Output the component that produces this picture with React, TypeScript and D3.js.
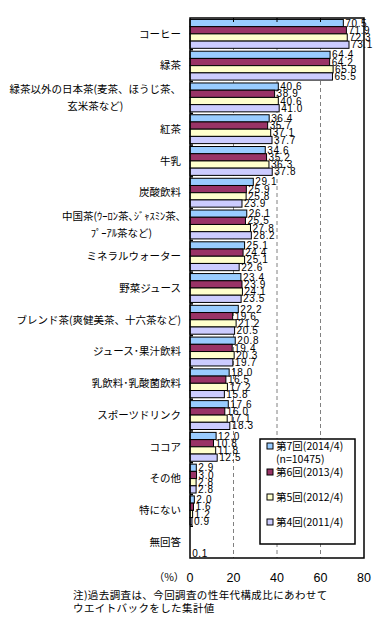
import { useEffect, useRef } from 'react'
import * as d3 from 'd3'

// categories (\n = line break in the axis label)
const categories = [
  'コーヒー',
  '緑茶',
  '緑茶以外の日本茶(麦茶、ほうじ茶、\n玄米茶など)',
  '紅茶',
  '牛乳',
  '炭酸飲料',
  '中国茶(ｳｰﾛﾝ茶､ｼﾞｬｽﾐﾝ茶､\nﾌﾟｰｱﾙ茶など)',
  'ミネラルウォーター',
  '野菜ジュース',
  'ブレンド茶(爽健美茶、十六茶など)',
  'ジュース･果汁飲料',
  '乳飲料･乳酸菌飲料',
  'スポーツドリンク',
  'ココア',
  'その他',
  '特にない',
  '無回答',
]

const seriesNames = ['第7回(2014/4)', '第6回(2013/4)', '第5回(2012/4)', '第4回(2011/4)']
const seriesColors = ['#99ccff', '#993366', '#ffffcc', '#ccccff']

const wave7 = [70.5, 64.4, 40.6, 36.4, 34.6, 29.1, 26.1, 25.1, 23.4, 22.2, 20.8, 18.0, 17.6, 12.0, 2.9, 2.0, null]
const wave6 = [71.9, 64.2, 38.9, 35.7, 35.2, 25.9, 25.5, 24.4, 23.9, 19.6, 19.4, 16.5, 16.0, 10.8, 3.0, 1.6, null]
const wave5 = [72.3, 65.8, 40.6, 37.1, 36.3, 25.8, 27.8, 25.1, 24.1, 21.2, 20.3, 17.2, 17.1, 11.8, 2.8, 1.2, null]
const wave4 = [73.1, 65.5, 41.0, 37.7, 37.8, 23.9, 28.2, 22.6, 23.5, 20.5, 19.7, 15.8, 18.3, 12.5, 2.8, 0.9, 0.1]

const xTicks = [0, 20, 40, 60, 80]
const noteLines = ['注)過去調査は、今回調査の性年代構成比にあわせて', 'ウエイトバックをした集計値']

const JP = '"Noto Sans CJK JP", sans-serif'
const NUM = '"Liberation Sans", Arial, sans-serif'
const NARROW = '"Liberation Sans Narrow", "Arial Narrow", sans-serif'

const App = () => {
  const ref = useRef<SVGSVGElement>(null)

  useEffect(() => {
    const width = 389
    const height = 628
    const plot = { left: 190, right: 364, top: 18, bottom: 558 }

    const svg = d3.select(ref.current)
    svg.selectAll('*').remove()
    svg.attr('width', width).attr('height', height)

    const x = d3.scaleLinear().domain([0, 80]).range([plot.left, plot.right])
    const y = d3.scaleBand<string>().domain(categories).range([plot.top, plot.bottom])
    const inner = d3.scaleBand<number>()
                    .domain(d3.range(seriesNames.length))
                    .range([0, y.bandwidth()])
                    .paddingOuter(0.2)

    const series = [wave7, wave6, wave5, wave4]

    // gridlines
    svg.append('g')
       .selectAll('line')
       .data(xTicks.slice(1, -1))
       .join('line')
       .attr('x1', d => x(d)).attr('x2', d => x(d))
       .attr('y1', plot.top).attr('y2', plot.bottom)
       .attr('stroke', '#808080')
       .attr('stroke-dasharray', '4,3')

    // bars
    series.forEach((vals, si) => {
      const g = svg.append('g')
      categories.forEach((c, ci) => {
        const v = vals[ci]
        if (v == null) return
        const by = (y(c) as number) + (inner(si) as number)
        g.append('rect')
         .attr('x', x(0))
         .attr('y', by)
         .attr('width', Math.max(0, x(v) - x(0)))
         .attr('height', inner.bandwidth())
         .attr('fill', seriesColors[si])
         .attr('stroke', v >= 0.5 ? '#000' : 'none')
         .attr('stroke-width', 1)
      })
    })

    // value labels
    series.forEach((vals, si) => {
      categories.forEach((c, ci) => {
        const v = vals[ci]
        if (v == null) return
        const cy = (y(c) as number) + (inner(si) as number) + inner.bandwidth() / 2
        svg.append('text')
           .attr('x', x(v) + 2)
           .attr('y', cy)
           .attr('dy', '0.36em')
           .attr('font-family', NUM)
           .attr('font-size', 10)
           .attr('letter-spacing', 0.6)
           .text(d3.format('.1f')(v))
      })
    })

    // frame
    svg.append('rect')
       .attr('x', plot.left).attr('y', plot.top)
       .attr('width', plot.right - plot.left).attr('height', plot.bottom - plot.top)
       .attr('fill', 'none').attr('stroke', '#000').attr('stroke-width', 1.5)

    // top ticks
    svg.append('g')
       .selectAll('line')
       .data(xTicks.slice(1, -1))
       .join('line')
       .attr('x1', d => x(d)).attr('x2', d => x(d))
       .attr('y1', plot.top).attr('y2', plot.top + 4)
       .attr('stroke', '#000')

    // category ticks
    svg.append('g')
       .selectAll('line')
       .data(categories.slice(1))
       .join('line')
       .attr('x1', plot.left).attr('x2', plot.left + 3)
       .attr('y1', d => y(d) as number).attr('y2', d => y(d) as number)
       .attr('stroke', '#000')
       .attr('stroke-width', 1.5)

    // category labels
    const catFont = 10.5
    categories.forEach(c => {
      const lines = c.split('\n')
      const cy = (y(c) as number) + y.bandwidth() / 2
      if (lines.length === 1) {
        svg.append('text')
           .attr('x', 181).attr('y', cy).attr('dy', '0.36em')
           .attr('text-anchor', 'end')
           .attr('font-family', JP).attr('font-size', catFont)
           .text(c)
      } else {
        const gap = 17
        const t1 = svg.append('text')
                      .attr('x', 181).attr('y', cy - gap / 2).attr('dy', '0.36em')
                      .attr('text-anchor', 'end')
                      .attr('font-family', JP).attr('font-size', catFont)
                      .text(lines[0])
        const w = (t1.node() as SVGTextElement).getComputedTextLength()
        svg.append('text')
           .attr('x', 181 - w / 2).attr('y', cy + gap / 2).attr('dy', '0.36em')
           .attr('text-anchor', 'middle')
           .attr('font-family', JP).attr('font-size', catFont)
           .text(lines[1])
      }
    })

    // x tick labels
    svg.append('g')
       .selectAll('text')
       .data(xTicks)
       .join('text')
       .attr('x', d => x(d)).attr('y', 577).attr('dy', '0.36em')
       .attr('text-anchor', 'middle')
       .attr('font-family', NARROW).attr('font-size', 12.5)
       .text(d => d)

    svg.append('text')
       .attr('x', 169).attr('y', 577).attr('dy', '0.36em')
       .attr('text-anchor', 'middle')
       .attr('font-family', JP).attr('font-size', 10.5)
       .text('（%）')

    // legend
    const lg = svg.append('g')
    lg.append('rect')
      .attr('x', 260).attr('y', 439).attr('width', 95).attr('height', 105)
      .attr('fill', '#fff').attr('stroke', '#000').attr('stroke-width', 1.5)
    const legendY = [446, 472, 497, 522]
    seriesNames.forEach((name, i) => {
      lg.append('rect')
        .attr('x', 267).attr('y', legendY[i] - 3).attr('width', 6).attr('height', 6)
        .attr('fill', seriesColors[i]).attr('stroke', '#000')
      lg.append('text')
        .attr('x', 276).attr('y', legendY[i]).attr('dy', '0.36em')
        .attr('font-family', JP).attr('font-size', 10.5)
        .text(name)
    })
    lg.append('text')
      .attr('x', 276).attr('y', 459).attr('dy', '0.36em')
      .attr('font-family', JP).attr('font-size', 10.5)
      .text('(n=10475)')

    // note
    noteLines.forEach((line, i) => {
      svg.append('text')
         .attr('x', 73).attr('y', 595 + i * 13).attr('dy', '0.36em')
         .attr('font-family', JP).attr('font-size', 10.5)
         .attr('letter-spacing', 0.4)
         .text(line)
    })
  }, [])

  return (
    <div style={{ position: 'absolute', left: 0, top: 0, background: '#fff' }}>
      <svg ref={ref} style={{ display: 'block' }}></svg>
    </div>
  )
}

export default App
